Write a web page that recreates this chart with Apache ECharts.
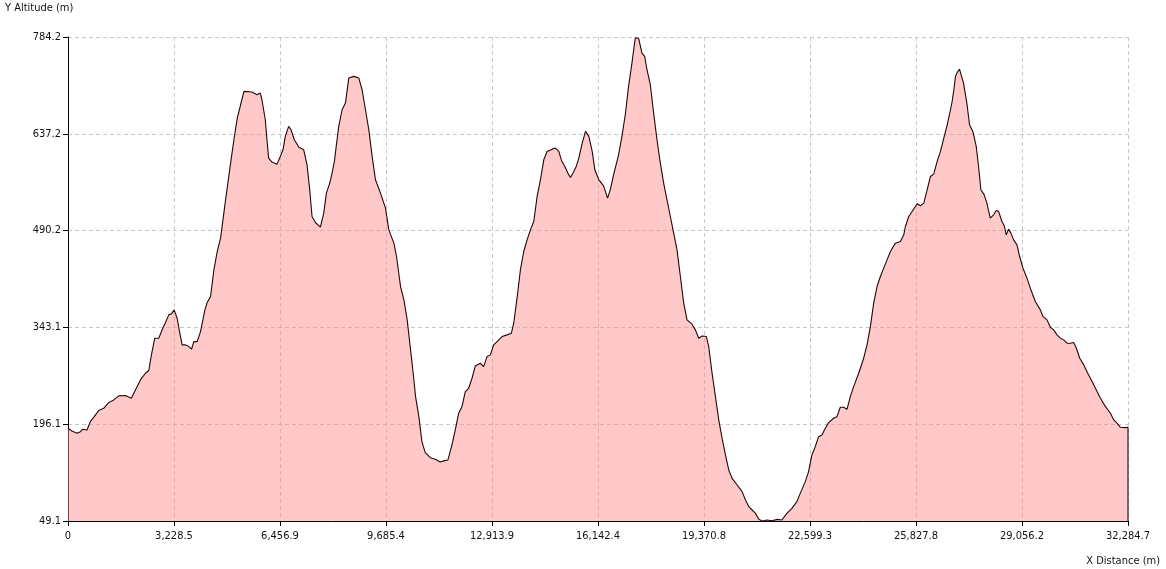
<!DOCTYPE html>
<html>
<head>
<meta charset="utf-8">
<script src="https://cdn.jsdelivr.net/npm/echarts@6/dist/echarts.min.js"></script>
<style>
html,body{margin:0;padding:0;background:#fff;}
#chart{width:1166px;height:569px;}
</style>
</head>
<body>
<div id="chart"></div>
<script>
// Distance along the track (m)
var distance = [
0,121,274,375,446,579,680,782,935,1087,1240,1392,1545,1748,1931,2053,2206,2358,2460,2541,
2643,2765,2887,2969,3070,3152,3233,3324,3396,3477,3579,3680,3762,3833,3935,4036,4108,4169,4240,4342,
4443,4545,4647,4799,4952,5053,5155,5257,5359,
5602,5755,5857,5907,6009,6060,6111,6212,6365,6446,6548,6619,6721,6792,6894,7026,7179,7280,7362,7433,
7535,7687,7789,7870,7972,8043,8114,8175,8246,8348,8450,8552,8704,8857,8958,9060,9162,9263,9365,9518,
9670,9772,9925,10006,10128,10230,10331,10433,10514,10586,10687,
10779,10881,11033,11186,11338,11471,11572,11694,11796,11898,11999,12101,12203,12305,12406,12559,12660,12762,12864,12966,
13067,13220,13372,13505,13576,13677,13779,13881,13983,14084,14186,14288,14389,14491,14593,14745,14847,14949,15030,15132,
15223,15305,15406,15478,15559,15661,15762,15864,15966,16047,16169,
16210,16312,16434,16515,16617,16769,16871,16973,17074,17176,17278,17380,17481,17563,17634,17736,17837,17939,18041,18142,
18244,18346,18447,18549,18651,18753,18854,19007,19108,19210,19312,19444,19515,19617,19719,19820,19922,20024,20125,20227,
20380,20532,20634,20736,20837,20939,21041,21142,21295,21448,21600,
21743,21895,22048,22200,22302,22455,22556,22658,22760,22861,22963,23065,23167,23319,23421,23522,23624,23726,23827,23929,
24082,24234,24336,24438,24539,24641,24743,24844,24946,25048,25200,25353,25455,25505,25607,25709,25861,25963,26065,26167,
26268,26370,26472,26573,26675,26777,26878,26929,26980,27031,
27072,27153,27194,27275,27377,27458,27560,27662,27733,27804,27906,27987,28089,28191,28272,28343,28445,28516,28577,28648,
28720,28801,28903,28984,29086,29208,29309,29462,29615,29696,29818,29920,30021,30123,30225,30326,30428,30530,30632,30713,
30815,30937,31059,31191,31293,31445,31598,31750,31852,31954,32055,32208,32284.7,32284.7
];
// Altitude (m)
var altitude = [
189.9,185.9,182.3,184.8,188.4,187.4,200.0,206.6,216.8,220.3,228.9,233.0,239.1,239.6,235.5,248.2,263.4,273.5,277.6,301.4,
326.7,326.7,341.9,350.5,362.2,363.7,369.8,357.1,336.8,316.6,316.6,314.0,310.0,321.6,321.6,336.8,354.6,369.8,380.9,390.0,
430.5,458.4,478.7,536.9,592.7,628.1,661.1,681.3,701.6,
700.6,696.5,699.0,688.9,658.5,628.1,600.3,594.2,591.1,600.3,612.9,633.2,648.4,643.3,628.1,617.0,612.9,590.1,552.1,511.6,
502.5,495.4,516.7,547.1,562.3,577.5,595.2,620.5,648.4,673.7,683.8,721.8,724.4,721.8,704.1,673.7,643.3,602.8,567.3,547.1,
524.3,491.3,471.1,450.8,405.2,385.0,354.6,309.0,273.5,238.0,207.6,
169.7,152.9,145.3,142.8,138.7,140.8,141.8,164.6,187.4,212.7,222.8,245.6,250.7,265.9,284.6,288.7,283.6,298.8,301.4,316.6,
321.6,329.2,331.8,334.3,349.5,387.5,430.5,458.4,476.1,491.3,504.0,542.0,567.3,597.7,610.4,613.9,615.5,610.4,596.7,587.6,
577.5,570.9,580.0,587.6,600.3,623.1,640.8,633.2,610.4,582.5,567.3,
564.8,558.2,539.5,552.1,574.9,605.3,633.2,666.1,709.2,744.6,783.0,782.0,759.8,754.8,734.5,711.7,668.6,628.1,592.7,562.3,
536.9,511.6,486.3,460.9,420.4,379.9,354.6,348.0,339.4,326.7,330.2,329.2,314.0,273.5,238.0,202.6,174.7,149.4,126.6,113.9,
103.8,93.7,81.0,70.9,65.8,60.7,51.6,49.1,50.6,49.6,51.6,
50.6,60.7,68.3,78.5,91.1,108.9,124.1,149.4,162.0,177.2,179.8,189.9,198.5,205.1,207.6,221.8,221.8,218.8,238.0,253.2,
273.5,296.3,316.6,344.4,379.9,405.2,420.4,433.1,445.7,458.4,471.1,473.6,483.7,496.4,511.6,519.2,530.9,527.8,531.9,552.1,
572.4,576.4,595.2,610.4,630.7,650.9,673.7,686.4,704.1,724.4,
729.4,735.5,737.0,714.2,683.8,650.9,640.8,618.0,587.6,552.1,544.5,531.9,509.1,514.1,520.7,519.2,504.0,497.4,483.7,492.4,
486.3,476.1,468.5,450.8,433.1,417.9,402.7,382.4,369.8,359.6,354.6,343.4,339.4,331.8,326.7,324.2,319.1,319.1,320.1,311.5,
296.3,286.2,273.5,260.8,250.7,235.5,222.8,212.7,202.6,197.5,191.4,190.9,191.4,49.1
];
// Axis ranges / tick steps
var xMin = 0, xMax = 32284.7, xStep = 3228.47;
var yMin = 49.1, yMax = 784.2, yStep = 147.02;
var yTitle = 'Y Altitude (m)';
var xTitle = 'X Distance (m)';

var points = distance.map(function (d, i) { return [d, altitude[i]]; });
var FONT = "'DejaVu Sans Condensed', 'Liberation Sans', sans-serif";

var chart = echarts.init(document.getElementById('chart'), null, {renderer: 'canvas'});
chart.setOption({
  animation: false,
  backgroundColor: '#ffffff',
  grid: {left: 68, right: 38, top: 37, bottom: 48, containLabel: false},
  xAxis: {
    type: 'value', min: xMin, max: xMax, interval: xStep,
    axisLine: {show: true, lineStyle: {color: '#000', width: 1}},
    axisTick: {show: true, length: 5, lineStyle: {color: '#000'}},
    axisLabel: {
      margin: 10, color: '#111', fontFamily: FONT, fontSize: 11,
      formatter: function (v) {
        if (Math.abs(v) < 1e-6) return '0';
        return v.toLocaleString('en-US', {minimumFractionDigits: 1, maximumFractionDigits: 1});
      }
    },
    splitLine: {show: true, lineStyle: {color: '#c8c8c8', type: [4, 3], width: 1}}
  },
  yAxis: {
    type: 'value', min: yMin, max: yMax, interval: yStep,
    axisLine: {show: true, lineStyle: {color: '#000', width: 1}},
    axisTick: {show: true, length: 5, lineStyle: {color: '#000'}},
    axisLabel: {
      margin: 7, color: '#111', fontFamily: FONT, fontSize: 11,
      formatter: function (v) { return v.toFixed(1); }
    },
    splitLine: {show: true, lineStyle: {color: '#c8c8c8', type: [4, 3], width: 1}}
  },
  graphic: [
    {type: 'text', left: 5, top: 3, style: {text: yTitle, fontFamily: FONT, fontSize: 11, fill: '#111'}},
    {type: 'text', right: 6, top: 556, style: {text: xTitle, fontFamily: FONT, fontSize: 11, fill: '#111'}}
  ],
  series: [{
    type: 'line',
    data: points,
    showSymbol: false,
    symbol: 'none',
    smooth: false,
    lineStyle: {color: '#200808', width: 1.1},
    areaStyle: {color: 'rgba(255,140,140,0.47)', opacity: 1, origin: 'start'},
    emphasis: {disabled: true}
  }]
});
</script>
</body>
</html>
